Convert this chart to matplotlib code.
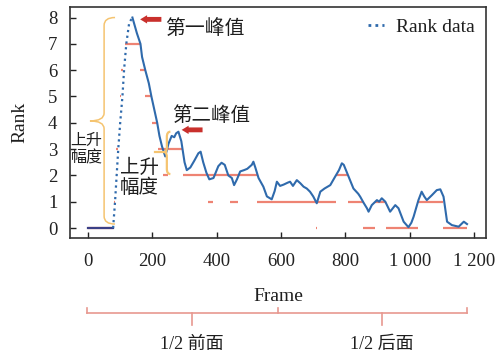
import matplotlib
matplotlib.use("Agg")
import matplotlib.pyplot as plt
from matplotlib.path import Path
from matplotlib.patches import PathPatch
from matplotlib.lines import Line2D
from matplotlib.transforms import blended_transform_factory

# ---------------- data ----------------
frames = [0, 40, 78, 84, 89, 94, 100, 107, 112, 119, 128, 138,
          145, 152, 163, 168, 178, 189, 197, 206, 215, 222, 230, 240,
          250, 260, 268, 274, 281, 290, 300, 307, 318, 330, 343, 350,
          358, 368, 377, 390, 405, 415, 425, 436, 447, 454, 463, 473,
          485, 495, 509, 514, 520, 530, 545, 556, 571, 580, 587, 597,
          608, 620, 628, 637, 649, 660, 670, 680, 690, 700, 711, 722,
          735, 753, 768, 780, 789, 795, 810, 825, 840, 846, 857, 867,
          872, 882, 898, 905, 913, 924, 939, 955, 965, 981, 996, 1005,
          1012, 1027, 1037, 1045, 1053, 1069, 1084, 1095, 1105, 1116, 1131, 1152,
          1168, 1178]
ranks = [0, 0, 0, 1.0, 2.0, 3.0, 4.0, 5.0, 6.0, 7.0, 7.8, 8.0,
         7.7, 7.4, 7.0, 6.5, 6.0, 5.5, 5.0, 4.5, 4.0, 3.5, 3.1, 2.72,
         3.2, 3.5, 3.45, 3.6, 3.66, 3.3, 2.5, 2.2, 2.3, 2.55, 2.84, 2.9,
         2.5, 2.1, 1.85, 1.9, 2.35, 2.48, 2.4, 2.0, 1.9, 1.63, 1.85, 2.15,
         2.2, 2.25, 2.4, 2.52, 2.3, 1.9, 1.57, 1.2, 1.09, 1.4, 1.76, 1.6,
         1.65, 1.72, 1.76, 1.6, 1.82, 1.7, 1.57, 1.5, 1.38, 1.2, 0.94, 1.38,
         1.5, 1.63, 1.95, 2.2, 2.46, 2.4, 1.95, 1.5, 1.3, 1.19, 0.95, 0.75,
         0.62, 0.87, 1.06, 1.0, 1.13, 1.0, 0.62, 0.87, 0.75, 0.24, 0.03, 0.2,
         0.43, 1.06, 1.38, 1.2, 1.06, 1.25, 1.44, 1.47, 1.19, 0.24, 0.11, 0.05,
         0.24, 0.15]

# quantised level segments (level, start frame, end frame)
seg_level = [0, 0, 0, 0, 0,
             1, 1, 1, 1, 1, 1, 1,
             2, 2, 2, 2,
             3, 3, 4, 5, 5, 6, 6, 7]
seg_start = [0, 709, 855, 927, 1104,
             81, 374, 442, 525, 809, 893, 1026,
             86, 233, 295, 771,
             88, 218, 198, 98, 178, 104, 162, 115]
seg_end = [78, 713, 893, 1026, 1179,
           85, 390, 467, 771, 855, 924, 1104,
           91, 249, 525, 809,
           92, 292, 214, 102, 196, 110, 177, 162]

xtick_vals = [0, 200, 400, 600, 800, 1000, 1200]
xtick_labels = ["0", "200", "400", "600", "800", "1 000", "1 200"]
ytick_vals = [0, 1, 2, 3, 4, 5, 6, 7, 8]

rise_end = 138  # first peak frame

# ---------------- style ----------------
BLUE = "#2f6aac"
SEG = "#ee8373"
ARROW = "#c9302c"
BRACE = "#f5c470"
BRACKET = "#e79890"
SERIF = ["Liberation Serif", "Noto Sans CJK SC"]
CJK = ["Noto Sans CJK SC", "DejaVu Sans"]
TXT = "#1e1e1e"

fig = plt.figure(figsize=(5.04, 3.54), dpi=100)
ax = fig.add_axes([70 / 504, 1 - 238 / 354, 416 / 504, 231 / 354])

# level segments
for lv, s, e in zip(seg_level, seg_start, seg_end):
    ax.plot([s, e], [lv, lv], color=SEG, lw=1.6, solid_capstyle="butt", zorder=2)

# rank data: rising part dotted, rest solid
i_rise0 = frames.index(78)
i_peak = frames.index(rise_end)
ax.plot(frames[:i_rise0 + 1], ranks[:i_rise0 + 1], color="#3b3f86", lw=1.6, zorder=3)
ax.plot(frames[i_rise0:i_peak + 1], ranks[i_rise0:i_peak + 1], color=BLUE, lw=1.6,
        ls=(0, (1, 1.6)), zorder=3)
ax.plot(frames[i_peak:], ranks[i_peak:], color=BLUE, lw=1.5, zorder=3)

ax.set_xlim(-56, 1237)
ax.set_ylim(-0.38, 8.4)
ax.set_xticks(xtick_vals)
ax.set_xticklabels(xtick_labels)
ax.set_yticks(ytick_vals)
for lab in ax.get_xticklabels() + ax.get_yticklabels():
    lab.set_fontfamily(SERIF)
    lab.set_fontsize(13.5)
    lab.set_color(TXT)
ax.tick_params(direction="in", length=4, width=1, colors="#222222")
ax.tick_params(axis="x", pad=11)
ax.tick_params(axis="y", pad=9)
for sp in ax.spines.values():
    sp.set_color("#333333")
    sp.set_linewidth(1.2)

ax.set_xlabel("Frame", fontfamily=SERIF, fontsize=14, labelpad=13, color=TXT)
ax.set_ylabel("Rank", fontfamily=SERIF, fontsize=14, labelpad=14, color=TXT)

# legend
handle = Line2D([], [], color=BLUE, lw=2, ls=(0, (1, 1.5)))
ax.legend([handle], ["Rank data"], loc="upper right", frameon=False,
          prop={"family": SERIF, "size": 14}, handlelength=0.8,
          handletextpad=0.6, borderaxespad=0.2, labelcolor=TXT)


def brace(x_spine, x_tip, x_hook, y_top, y_mid, y_bot, r, lw):
    verts = [(x_hook, y_top), (x_spine, y_top), (x_spine, y_top - r),
             (x_spine, y_mid + r),
             (x_spine, y_mid), (x_tip, y_mid),
             (x_spine, y_mid), (x_spine, y_mid - r),
             (x_spine, y_bot + r),
             (x_spine, y_bot), (x_hook, y_bot)]
    codes = [Path.MOVETO, Path.CURVE3, Path.CURVE3,
             Path.LINETO,
             Path.CURVE3, Path.CURVE3,
             Path.CURVE3, Path.CURVE3,
             Path.LINETO,
             Path.CURVE3, Path.CURVE3]
    ax.add_patch(PathPatch(Path(verts, codes), fill=False, edgecolor=BRACE,
                           lw=lw, zorder=4, clip_on=False))


# big brace for first rise
brace(50, 6, 84, 8.0, 4.07, 0.15, 0.3, 1.1)
# small brace for second rise
brace(245, 238, 256, 3.66, 2.88, 2.05, 0.2, 1.6)
ax.plot([208, 240], [2.88, 2.88], color=BRACE, lw=1.6, zorder=4)

# arrows
arrow_style = "simple,head_length=0.5,head_width=0.6,tail_width=0.35"
for (xh, xt, yv) in [(162, 228, 7.93), (291, 356, 3.73)]:
    ax.annotate("", xy=(xh, yv), xytext=(xt, yv),
                arrowprops=dict(arrowstyle=arrow_style, color=ARROW, lw=0,
                                shrinkA=0, shrinkB=0))

# annotation texts
ax.text(240, 7.6, "第一峰值", family=CJK, fontsize=14.3, ha="left", va="center",
        color=TXT)
ax.text(261, 4.26, "第二峰值", family=CJK, fontsize=14, ha="left", va="center",
        color=TXT)
ax.text(-54, 3.0, "上升\n幅度", family=CJK, fontsize=11.5, ha="left", va="center",
        color=TXT, linespacing=1.0)
ax.text(98, 1.92, "上升\n幅度", family=CJK, fontsize=14, ha="left", va="center",
        color=TXT, linespacing=1.0)

# bottom half brackets (x in data, y in figure fraction)
tr = blended_transform_factory(ax.transData, fig.transFigure)
yb = 1 - 313 / 354
yt = 1 - 308 / 354
yd = 1 - 325 / 354
kw = dict(color=BRACKET, lw=1.2, transform=tr, clip_on=False)
ax.plot([-3, 1179], [yb, yb], **kw)
for xv in (-3, 591, 1179):
    ax.plot([xv, xv], [yb, yt], **kw)
for xv in (323, 914):
    ax.plot([xv, xv], [yb, yd], **kw)
ax.text(323, 1 - 344 / 354, "1/2 前面", family=SERIF, fontsize=13, ha="center",
        va="center", transform=tr, color=TXT)
ax.text(914, 1 - 344 / 354, "1/2 后面", family=SERIF, fontsize=13, ha="center",
        va="center", transform=tr, color=TXT)

fig.savefig("out.png", dpi=100)
